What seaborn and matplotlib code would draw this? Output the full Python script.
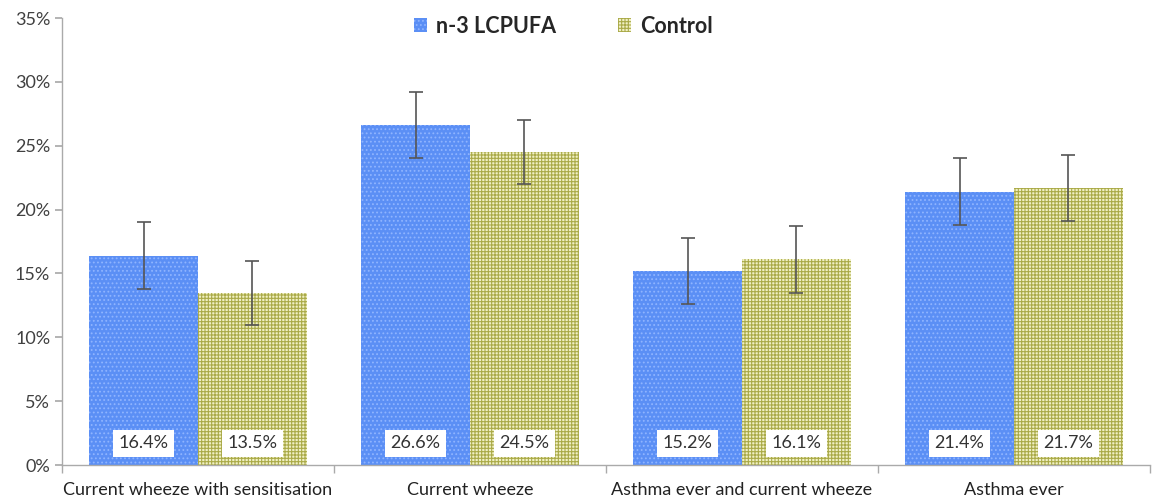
import matplotlib
matplotlib.use("Agg")
import matplotlib.pyplot as plt
import seaborn as sns
import pandas as pd
import numpy as np
from matplotlib.ticker import PercentFormatter, FixedLocator
from matplotlib.patches import Patch

categories = ["Current wheeze with sensitisation", "Current wheeze",
              "Asthma ever and current wheeze", "Asthma ever"]
groups = ["n-3 LCPUFA", "Control"]
lcpufa = [16.4, 26.6, 15.2, 21.4]
control = [13.5, 24.5, 16.1, 21.7]
lcpufa_err = [2.6, 2.6, 2.6, 2.6]
control_err = [2.5, 2.5, 2.6, 2.6]

sns.set_theme(style="white")
plt.rcParams['font.family'] = ['Lato', 'DejaVu Sans']
plt.rcParams['hatch.linewidth'] = 0.8

df = pd.DataFrame({
    "category": categories * 2,
    "group": [groups[0]] * 4 + [groups[1]] * 4,
    "value": lcpufa + control,
})

fig = plt.figure(figsize=(11.54, 5.0), dpi=100)
ax = fig.add_axes([62/1154, 35/500, (1150-62)/1154, (465-18)/500])

blue, ctrl = "#5b8ff5", "#f0f0c4"
sns.barplot(data=df, x="category", y="value", hue="group", order=categories,
            hue_order=groups, palette=[blue, ctrl], errorbar=None,
            width=0.8, gap=0, ax=ax, legend=False, saturation=1)

hatch_edge = "#aaaa48"
styles = {0: dict(hatch="....", edge="#8fb4ff"), 1: dict(hatch="+++++", edge=hatch_edge)}
errs = [lcpufa_err, control_err]
vals = [lcpufa, control]
bar_containers = list(ax.containers)
for gi, cont in enumerate(bar_containers):
    for ci, bar in enumerate(cont.patches):
        bar.set_hatch(styles[gi]["hatch"])
        bar.set_edgecolor(styles[gi]["edge"])
        bar.set_linewidth(0)
        xc = bar.get_x() + bar.get_width() / 2
        ax.errorbar(xc, bar.get_height(), yerr=errs[gi][ci], fmt="none",
                    ecolor="#555555", elinewidth=1.2, capsize=5, capthick=1.2, zorder=5)
        ax.text(xc, 1.7, f"{vals[gi][ci]:.1f}%", ha="center", va="center",
                fontsize=13, color="#333333", zorder=6,
                bbox=dict(boxstyle="square,pad=0.3", fc="white", ec="none"))

ax.set_ylim(0, 35)
ax.set_xlim(-0.5, 3.5)
ax.yaxis.set_major_locator(FixedLocator(np.arange(0, 36, 5)))
ax.yaxis.set_major_formatter(PercentFormatter(decimals=0))
ax.set_xlabel("")
ax.set_ylabel("")
ax.set_xticks(np.arange(-0.5, 4, 1), minor=True)
ax.tick_params(axis="x", which="major", length=0, labelsize=13, labelcolor="#222222", pad=12)
ax.tick_params(axis="x", which="minor", length=6, color="#aaaaaa", direction="out", bottom=True)
ax.tick_params(axis="y", which="major", length=5, color="#aaaaaa", direction="out",
               labelsize=13, labelcolor="#404040", left=True)
for s in ["top", "right"]:
    ax.spines[s].set_visible(False)
for s in ["left", "bottom"]:
    ax.spines[s].set_color("#aaaaaa")
    ax.spines[s].set_linewidth(1)

handles = [Patch(facecolor=blue, edgecolor="#8fb4ff", hatch="....", linewidth=0),
           Patch(facecolor=ctrl, edgecolor=hatch_edge, hatch="+++++", linewidth=0)]
leg = ax.legend(handles, groups, loc="center", bbox_to_anchor=(0.461, 0.982), ncol=2,
                frameon=False, prop={"weight": "bold", "size": 15.5}, handlelength=0.6,
                handleheight=0.6, columnspacing=2.9, handletextpad=0.4)

fig.savefig("out.png", dpi=100)
